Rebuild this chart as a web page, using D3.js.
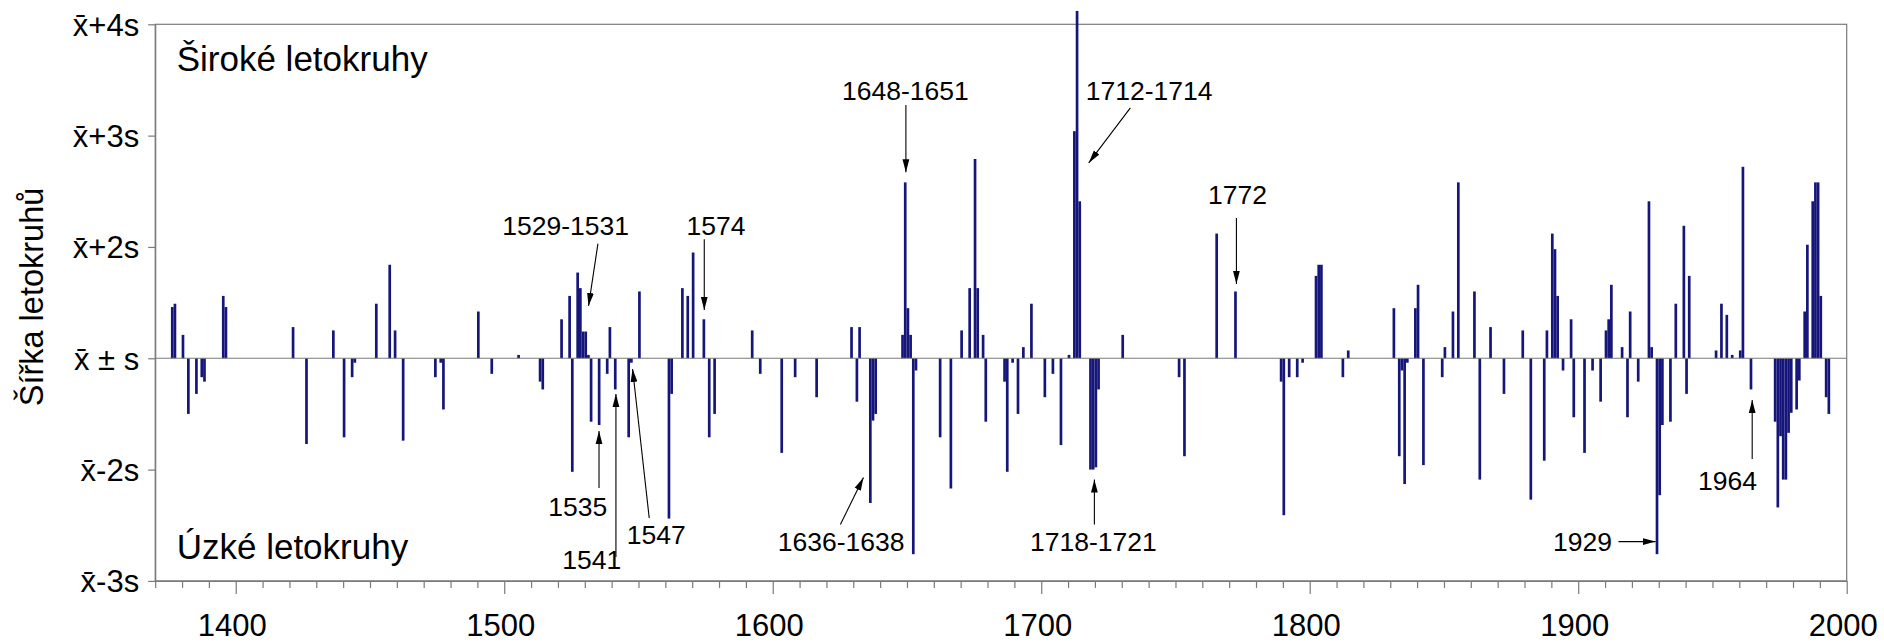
<!DOCTYPE html>
<html><head><meta charset="utf-8">
<script src="https://cdn.jsdelivr.net/npm/d3@7"></script>
<style>
body{margin:0;background:#fff}
svg{display:block}
text{font-family:"Liberation Sans",Arial,Helvetica,sans-serif;fill:#000}
</style>
</head><body>
<svg id="chart" width="1884" height="643"></svg>
<script>
// ---- data (departure beyond x̄ ± s, in units of s) ----
const years = [1376,1377,1380,1382,1385,1387,1388,1395,1396,1421,1426,1436,1440,1443,1444,1452,1457,1459,1462,1474,1476,1477,
1490,1495,1505,1513,1514,1521,1524,1525,1527,1528,1529,1530,1531,1532,1535,1538,1539,1541,1546,1547,1550,1561,1562,1566,1568,1570,1574,1576,1578,
1592,1595,1603,1608,1616,1629,1631,1632,1636,1637,1638,1648,1649,1650,1651,1652,1653,1662,1666,1670,1673,1675,1676,1678,1679,1686,1687,1689,1691,1693,1696,
1701,1704,1707,1710,1712,1713,1714,1718,1719,1720,1721,1730,1751,1753,1765,1772,1789,1790,1792,1795,1797,
1802,1803,1804,1812,1814,1831,1833,1834,1835,1836,1839,1840,1842,1849,1850,1853,1855,1861,1863,1867,1872,1879,1882,1887,1888,1890,1891,1892,1894,1897,1898,
1902,1905,1908,1910,1911,1912,1916,1918,1919,1922,1926,1927,1929,1930,1931,1934,1936,1939,1940,1941,1951,1953,1955,1957,1960,1961,1964,
1973,1974,1975,1976,1977,1978,1979,1981,1982,1984,1985,1987,1988,1989,1990,1992,1993];
const values = [0.46,0.49,0.21,-0.50,-0.32,-0.17,-0.21,0.56,0.46,0.28,-0.77,0.25,-0.71,-0.17,-0.04,0.49,0.84,0.25,-0.74,-0.17,-0.04,-0.46,
0.42,-0.14,0.03,-0.21,-0.28,0.35,0.56,-1.02,0.77,0.63,0.24,0.24,0.03,-0.57,-0.60,-0.14,0.28,-0.28,-0.71,-0.04,0.60,-1.44,-0.32,0.63,0.56,0.95,0.35,-0.71,-0.50,
0.25,-0.14,-0.85,-0.17,-0.35,0.28,-0.39,0.28,-1.30,-0.56,-0.50,0.21,1.58,0.45,0.21,-1.76,-0.11,-0.71,-1.17,0.25,0.63,1.79,0.63,0.21,-0.57,-0.21,-1.02,-0.04,-0.50,0.10,0.49,
-0.35,-0.14,-0.78,0.03,2.04,3.12,1.41,-1.00,-1.00,-0.98,-0.28,0.21,-0.17,-0.88,1.12,0.60,-0.21,-1.41,-0.17,-0.17,-0.04,
0.74,0.84,0.84,-0.17,0.07,0.45,-0.88,-0.11,-1.13,-0.04,0.45,0.66,-0.96,-0.17,0.10,0.42,1.58,0.60,-1.09,0.28,-0.32,0.25,-1.27,-0.92,0.25,1.12,0.98,0.56,-0.11,0.35,-0.53,
-0.85,-0.11,-0.39,0.25,0.35,0.66,0.10,-0.53,0.42,-0.21,1.41,0.10,-1.76,-1.23,-0.60,-0.57,0.49,1.19,-0.32,0.74,0.07,0.49,0.39,0.03,0.07,1.72,-0.28,
-0.57,-1.34,-0.70,-1.09,-1.09,-0.67,-0.49,-0.46,-0.20,0.42,1.02,1.41,1.58,1.58,0.56,-0.35,-0.50];

const yTickValues = [3, 2, 1, 0, -1, -2];
const yTickLabels = ["x\u0304+4s", "x\u0304+3s", "x\u0304+2s", "x\u0304 \u00B1 s", "x\u0304-2s", "x\u0304-3s"];
const xTickValues = d3.range(1370, 2001, 10);
const xLabelValues = [1400, 1500, 1600, 1700, 1800, 1900, 2000];
const yTitle = "Šířka letokruhů";
const topNote = "Široké letokruhy";
const bottomNote = "Úzké letokruhy";

// annotations: label, label anchor (year, value), arrow from (year, value) to (year, value)
const annLabels = ["1529-1531","1574","1535","1541","1547","1636-1638","1648-1651","1712-1714","1718-1721","1772","1929","1964"];
const annLabelYear = [1522.9,1578.9,1527.4,1532.6,1556.6,1625.5,1649.4,1740.2,1719.4,1773.1,1901.6,1955.6];
const annLabelVal  = [1.108,1.108,-1.417,-1.89,-1.668,-1.731,2.321,2.321,-1.731,1.383,-1.731,-1.183];
const annFromYear  = [1534.9,1574.5,1535.3,1541.6,1554.0,1625.2,1649.6,1733.2,1719.8,1772.7,1915.0,1964.8];
const annFromVal   = [1.03,1.07,-1.165,-1.785,-1.435,-1.493,2.276,2.249,-1.493,1.261,-1.647,-0.905];
const annToYear    = [1531.4,1574.5,1535.3,1541.6,1547.8,1633.8,1649.6,1717.7,1719.8,1772.7,1928.8,1964.8];
const annToVal     = [0.47,0.434,-0.653,-0.321,-0.096,-1.072,1.67,1.755,-1.09,0.668,-1.647,-0.375];

// ---- layout ----
const svg = d3.select("#chart");
const mLeft = 155.2, mRight = 1846.7, mTop = 24.3, mBottom = 580.9;
const x = d3.scaleLinear().domain([1370, 2000]).range([mLeft, mRight]);
const y = d3.scaleLinear().domain([-2, 3]).range([mBottom, mTop]);
const gray = "#7a7a7a";
const barColor = "#15157a";

const defs = svg.append("defs");
defs.append("marker").attr("id","ah").attr("viewBox","0 0 13 8").attr("refX",13).attr("refY",4)
  .attr("markerWidth",13).attr("markerHeight",8).attr("markerUnits","userSpaceOnUse").attr("orient","auto")
  .append("path").attr("d","M0,0.6 L13,4 L0,7.4 Z").attr("fill","#000");

// frame (top & right)
svg.append("rect").attr("x", mLeft).attr("y", mTop).attr("width", mRight-mLeft).attr("height", mBottom-mTop)
  .attr("fill","none").attr("stroke", gray).attr("stroke-width",1.2);

// bars
const data = years.map((yr,i)=>({yr, v: values[i]}));
const bw = x(1371) - x(1370);
svg.append("g").selectAll("rect").data(data).join("rect")
  .attr("x", d => x(d.yr + 0.35) - bw/2)
  .attr("width", bw)
  .attr("y", d => d.v >= 0 ? y(d.v) : y(0))
  .attr("height", d => Math.abs(y(d.v) - y(0)))
  .attr("fill", barColor);

// baseline
svg.append("line").attr("x1", mLeft).attr("x2", mRight).attr("y1", y(0)).attr("y2", y(0))
  .attr("stroke", gray).attr("stroke-width",1.2);

// y axis
const yAxis = svg.append("g").attr("transform",`translate(${mLeft},0)`)
  .call(d3.axisLeft(y).tickValues(yTickValues).tickFormat((d,i)=>yTickLabels[i]).tickSize(7).tickPadding(9).tickSizeOuter(0));
yAxis.select(".domain").attr("stroke", gray).attr("stroke-width",1.2);
yAxis.selectAll(".tick line").attr("stroke", gray).attr("stroke-width",1.2);
yAxis.selectAll(".tick text").attr("font-size",31).attr("fill","#000").attr("dy","0.35em")
  .style("font-family",'"Liberation Sans",Arial,sans-serif');

// x axis
const xAxis = svg.append("g").attr("transform",`translate(0,${mBottom})`)
  .call(d3.axisBottom(x).tickValues(xTickValues).tickFormat(d => xLabelValues.includes(d) ? d : "").tickSize(7).tickSizeOuter(0));
xAxis.select(".domain").attr("stroke", gray).attr("stroke-width",1.2);
xAxis.selectAll(".tick line").attr("stroke", gray).attr("stroke-width",1.2)
  .attr("y2", d => xLabelValues.includes(d) ? 13 : 7);
xAxis.selectAll(".tick text").attr("font-size",31).attr("fill","#000").attr("y",33).attr("dx",-4)
  .style("font-family",'"Liberation Sans",Arial,sans-serif');

// y title
svg.append("text").attr("transform",`translate(42.5,297) rotate(-90)`)
  .attr("text-anchor","middle").attr("font-size",32.5).text(yTitle);

// corner notes
svg.append("text").attr("x", mLeft+21.5).attr("y", y(2.58)).attr("font-size",35).text(topNote);
svg.append("text").attr("x", mLeft+21.5).attr("y", y(-1.8)).attr("font-size",35).text(bottomNote);

// annotations
const ann = svg.append("g");
annLabels.forEach((t,i)=>{
  ann.append("line")
    .attr("x1", x(annFromYear[i])).attr("y1", y(annFromVal[i]))
    .attr("x2", x(annToYear[i])).attr("y2", y(annToVal[i]))
    .attr("stroke","#000").attr("stroke-width",1.1).attr("marker-end","url(#ah)");
  ann.append("text").attr("x", x(annLabelYear[i])).attr("y", y(annLabelVal[i]))
    .attr("text-anchor","middle").attr("font-size",26.5).text(t);
});
</script>
</body></html>
